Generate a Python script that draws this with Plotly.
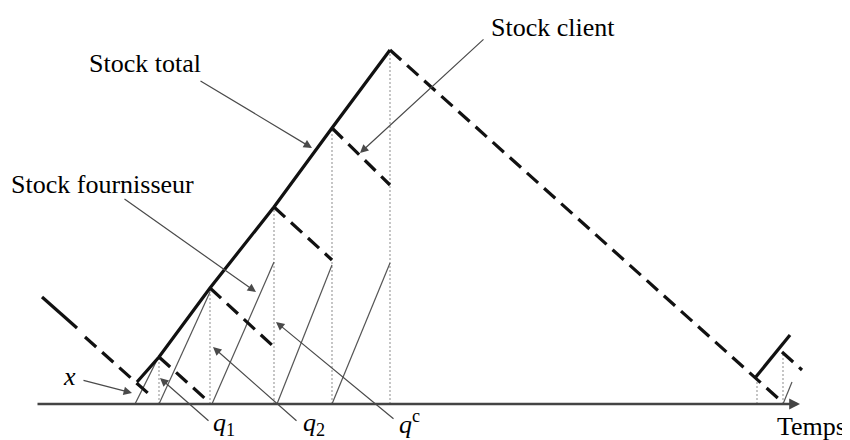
import plotly.graph_objects as go

# Temps (unités arbitraires) et niveaux de stock

# stock total (trait épais continu)
t_total = [137, 159, 210, 274, 332, 390]
stock_total = [22, 47, 116, 197, 276, 354]
t_total_debut = [42, 77]
stock_total_debut = [107, 76]
t_total_fin = [755, 790]
stock_total_fin = [26, 69]

# stock client (tirets épais) : un segment par période
t_client_debut = [85, 159, 210, 274, 332, 390, 782]
t_client_fin = [150, 210, 274, 332, 390, 780, 802]
client_debut = [67, 47, 116, 197, 276, 354, 52]
client_fin = [9, 1, 57, 144, 219, 4, 34]

# stock fournisseur (trait fin) : production entre deux livraisons
t_fourn_debut = [135, 159, 212, 277, 332, 783]
t_fourn_fin = [157, 210, 274, 332, 390, 792]
fourn_fin = [44, 112, 142, 139, 141, 22]

# instants de livraison (pointillés verticaux)
t_livraison = [159, 210, 274, 332, 390, 757, 783]
niveau_livraison = [47, 116, 197, 276, 354, 24, 52]


def segments(t0, t1, y0, y1):
    """Assemble des segments séparés par None pour une seule trace."""
    xs, ys = [], []
    for a, b, c, d in zip(t0, t1, y0, y1):
        xs += [a, b, None]
        ys += [c, d, None]
    return xs, ys


fig = go.Figure()

# pointillés verticaux
xv, yv = segments(t_livraison, t_livraison, [0] * len(t_livraison), niveau_livraison)
fig.add_trace(go.Scatter(x=xv, y=yv, mode='lines',
                         line=dict(color='#a0a0a0', width=1.2, dash='2px,2px')))

# stock fournisseur
xf, yf = segments(t_fourn_debut, t_fourn_fin, [0] * len(t_fourn_debut), fourn_fin)
fig.add_trace(go.Scatter(x=xf, y=yf, mode='lines',
                         line=dict(color='#555555', width=1.2)))

# stock client
xc, yc = segments(t_client_debut, t_client_fin, client_debut, client_fin)
fig.add_trace(go.Scatter(x=xc, y=yc, mode='lines',
                         line=dict(color='#111111', width=3.2, dash='15px,8px')))

# stock total
for tx, sy in [(t_total, stock_total), (t_total_debut, stock_total_debut),
               (t_total_fin, stock_total_fin)]:
    fig.add_trace(go.Scatter(x=tx, y=sy, mode='lines',
                             line=dict(color='#111111', width=3.2)))

police = dict(family='Liberation Serif, Times New Roman, serif', size=26, color='black')
fleche = dict(showarrow=True, arrowhead=2, arrowsize=1.4, arrowwidth=1.2,
              arrowcolor='#4a4a4a', axref='x', ayref='y', standoff=0)

# axe du temps
fig.add_annotation(x=800, y=0, ax=36, ay=0, text='', showarrow=True, arrowhead=2,
                   arrowsize=0.9, arrowwidth=2.4, arrowcolor='#444444',
                   axref='x', ayref='y', standoff=0)

# flèches de légende
fig.add_annotation(x=312, y=256, ax=199, ay=324, text='', **fleche)
fig.add_annotation(x=360, y=251, ax=485, ay=366, text='', **fleche)
fig.add_annotation(x=256, y=112, ax=123, ay=206, text='', **fleche)
fig.add_annotation(x=160, y=26, ax=210, ay=-18, text='', **fleche)
fig.add_annotation(x=213, y=57, ax=298, ay=-18, text='', **fleche)
fig.add_annotation(x=276, y=82, ax=395, ay=-16, text='', **fleche)
fig.add_annotation(x=132, y=11, ax=82, ay=24, text='', **fleche)

# textes
textes = [
    ('Stock total', 145, 341, 'center'),
    ('Stock fournisseur', 9, 220, 'left'),
    ('Stock client', 489, 377, 'left'),
    ('Temps', 775, -22, 'left'),
    ('<i>x</i>', 69, 28, 'center'),
    ('<i>q</i><sub>1</sub>', 224, -20, 'center'),
    ('<i>q</i><sub>2</sub>', 314, -20, 'center'),
    ('<i>q</i><sup>c</sup>', 409, -18, 'center'),
]
for txt, x, y, ancre in textes:
    fig.add_annotation(x=x, y=y, text=txt, showarrow=False, font=police,
                       xanchor=ancre, yanchor='middle')

# la page ajoute une marge de 8 px : on décale les plages d'autant
fig.update_layout(
    width=850,
    height=440,
    margin=dict(l=0, r=0, t=0, b=0),
    showlegend=False,
    plot_bgcolor='white',
    paper_bgcolor='white',
    xaxis=dict(range=[8, 858], visible=False, fixedrange=True),
    yaxis=dict(range=[-44, 396], visible=False, fixedrange=True),
)

fig.write_html("out.html")
